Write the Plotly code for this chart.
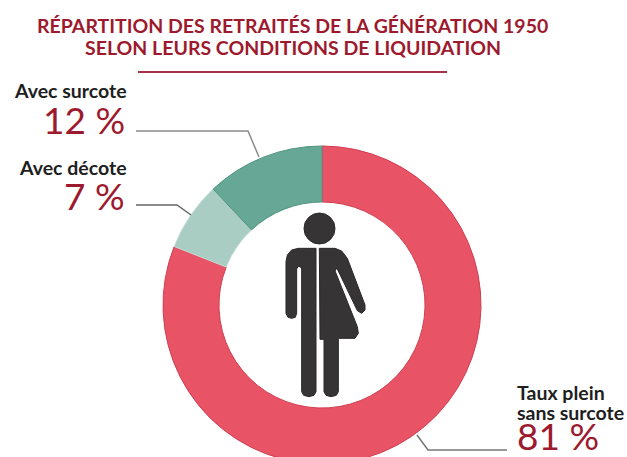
import plotly.graph_objects as go

categories = ["Taux plein sans surcote", "Avec décote", "Avec surcote"]
values = [81, 7, 12]
slice_colors = ["#e85465", "#a9cdc3", "#66a895"]
edge_colors = ["#cf3f52", "#c3ddd6", "#4f9480"]
title_lines = ["RÉPARTITION DES RETRAITÉS DE LA GÉNÉRATION 1950",
               "SELON LEURS CONDITIONS DE LIQUIDATION"]
W, H = 627, 464
RED = "#9d1a2e"


def px(x):
    return x / W


def py(y):
    return 1 - y / H


def poly(points, closed=False):
    d = "M" + " L".join(f"{px(x):.5f},{py(y):.5f}" for x, y in points)
    return d + (" Z" if closed else "")


def icon(pts):
    return [(260 + x / 3, 200 + y / 3) for x, y in pts]


fig = go.Figure(go.Pie(
    labels=categories, values=values, sort=False, direction="clockwise", rotation=0,
    hole=0.648, textinfo="none", hoverinfo="label+percent", showlegend=False,
    marker=dict(colors=slice_colors, line=dict(color=edge_colors, width=1)),
    domain=dict(x=[163 / W, 481 / W], y=[0, 318 / H]),
))

shapes = []


def line(points, color="#6e6e6e", width=1.5):
    shapes.append(dict(type="path", xref="paper", yref="paper", path=poly(points),
                       line=dict(color=color, width=width)))


line([(138, 72), (447, 72)], "#a9304a", 2)
line([(136, 131), (248, 131), (259, 157)], "#8a8a8a")
line([(136, 205), (177, 205), (191, 215)], "#666666")
line([(417, 435), (428, 450), (507, 450)], "#777777")

left_half = [(168, 145), (115, 145), (95, 150), (82, 165), (78, 185), (78, 340), (84, 352), (95, 355), (106, 352),
             (110, 340), (110, 207), (114, 200), (121, 200), (125, 207), (125, 575), (131, 586), (147, 590),
             (162, 586), (168, 575)]
right_half = [(178, 145), (225, 145), (245, 153), (262, 175), (315, 315), (315, 330), (305, 340), (292, 332),
              (232, 207), (226, 207), (226, 215), (292, 380), (295, 400), (285, 415), (235, 415), (235, 575),
              (229, 586), (213, 590), (198, 586), (192, 575), (192, 418), (180, 418)]
for part in (left_half, right_half):
    shapes.append(dict(type="path", xref="paper", yref="paper", path=poly(icon(part), True),
                       fillcolor="#363435", line=dict(color="#2a2829", width=1)))
shapes.append(dict(type="circle", xref="paper", yref="paper",
                   x0=px(319.5 - 15.5), x1=px(319.5 + 15.5), y0=py(228.5 + 15.5), y1=py(228.5 - 15.5),
                   fillcolor="#363435", line=dict(color="#2a2829", width=1)))

annotations = []


def text(s, x, y, size, color, anchor="center", bold=False, font="Lato"):
    annotations.append(dict(text=f"<b>{s}</b>" if bold else s, x=px(x), y=py(y), xref="paper", yref="paper",
                            xanchor=anchor, yanchor="middle", showarrow=False, borderpad=0, borderwidth=0,
                            font=dict(family=font, size=size, color=color)))


LABEL = 19.5
NUM = 37
text(title_lines[0], 292.5, 25, 19.5, RED, bold=True)
text(title_lines[1], 292.5, 48, 19.5, RED, bold=True)
text(categories[2], 127, 91, LABEL, "#1e1e1e", "right", True)
text(f"{values[2]} %", 125, 120, NUM, RED, "right")
text(categories[1], 127, 167, LABEL, "#1e1e1e", "right", True)
text(f"{values[1]} %", 125, 195, NUM, RED, "right")
text("Taux plein", 517, 392, LABEL, "#1e1e1e", "left", True)
text("sans surcote", 517, 412, LABEL, "#1e1e1e", "left", True)
text(f"{values[0]} %", 517, 435, NUM, RED, "left")

fig.update_layout(width=W, height=H, margin=dict(l=0, r=0, t=0, b=0), paper_bgcolor="white",
                  plot_bgcolor="white", shapes=shapes, annotations=annotations)
fig.write_html("out.html", config=dict(displayModeBar=False), post_script=(
    "document.body.style.margin='0';document.body.style.overflow='hidden';"
    "document.documentElement.style.overflow='hidden';"))
